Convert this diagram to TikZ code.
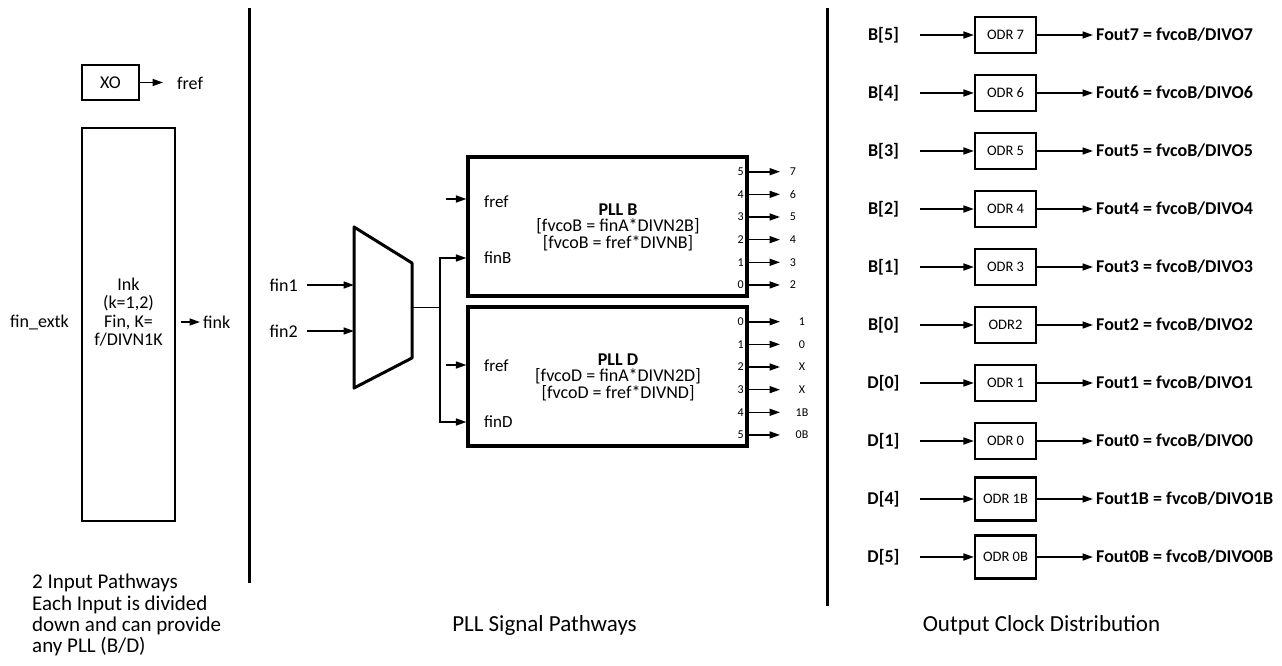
\documentclass[tikz,border=0pt]{standalone}
\usepackage{fontspec}
\setmainfont{Carlito}
\usetikzlibrary{arrows.meta}
\newcommand{\fs}[2]{\fontsize{#1}{#2}\selectfont}
\begin{document}
\begin{tikzpicture}[x=1pt,y=-1pt,
  arr/.style={line width=1.6pt,-{Triangle[length=10.5pt,width=7pt]}},
  sepline/.style={line width=3pt},
  box/.style={draw,line width=2.2pt,inner sep=0pt},
  pllbox/.style={draw,line width=3.2pt,inner sep=0pt,minimum width=279pt,minimum height=139pt},
  lbl/.style={inner sep=0pt,font=\fs{18}{20}},
  plllbl/.style={inner sep=0pt,font=\fs{17}{19}},
  pin/.style={inner sep=0pt,font=\fs{12}{14}},
  odrbox/.style={draw,line width=2.2pt,minimum width=61pt,inner sep=0pt,font=\fs{14.5}{16}},
  outlbl/.style={inner sep=0pt,font=\bfseries\fs{18}{20}},
  title/.style={inner sep=0pt,font=\fs{23}{26}}
]
\useasboundingbox (0,0) rectangle (1282,666);

% separators
\coordinate (s1t) at (249,8); \coordinate (s1b) at (249,583);
\coordinate (s2t) at (827,8); \coordinate (s2b) at (827,606);
\draw[sepline] (s1t) -- (s1b);
\draw[sepline] (s2t) -- (s2b);

% ---------- left panel ----------
\node[box,minimum width=57pt,minimum height=35pt,font=\fs{18}{20}] (xo) at (110.5,82.5) {XO};
\node[lbl,anchor=west] (fref0) at (177,83) {fref};
\draw[arr,shorten >=14pt] (xo.east) -- (xo.east -| fref0.west);

\node[box,minimum width=93pt,minimum height=393pt] (ink) at (128.5,324.5) {};
\node[inner sep=0pt,align=center,font=\fs{18}{18.3}] (inktxt) at (128.5,312) {Ink\\(k=1,2)\\Fin, K=\\f/DIVN1K};
\node[lbl] (finext) at (39.5,322) {fin\_extk};
\node[lbl,anchor=west] (fink) at (203,322) {fink};
\draw[arr,shorten <=5pt,shorten >=3pt] (ink.east |- fink.west) -- (fink.west);

\node[inner sep=0pt,align=left,anchor=north west,font=\fs{21}{21.4}] (t1) at (32,574)
  {2 Input Pathways\\Each Input is divided\\down and can provide\\any PLL (B/D)};

% ---------- middle panel ----------
\coordinate (mtl) at (354,227); \coordinate (mtr) at (412,263);
\coordinate (mbr) at (412,358); \coordinate (mbl) at (354,388);
\draw[line width=3pt,line join=round] (mtl) -- (mtr) -- (mbr) -- (mbl) -- cycle;
\node[lbl,anchor=east] (fin1) at (298,285) {fin1};
\node[lbl,anchor=east] (fin2) at (298,331) {fin2};
\draw[arr,shorten <=9pt] (fin1.east) -- (fin1.east -| mtl);
\draw[arr,shorten <=9pt] (fin2.east) -- (fin2.east -| mtl);

\node[pllbox] (pllB) at (607.5,226.5) {};
\node[pllbox] (pllD) at (607.5,376.5) {};

\node[plllbl,anchor=west] (frefB) at (484,202) {fref};
\node[plllbl,anchor=west] (finB) at (484,258) {finB};
\node[plllbl,anchor=west] (frefD) at (484,366) {fref};
\node[plllbl,anchor=west] (finD) at (484,422) {finD};

\node[inner sep=0pt,align=center,font=\fs{18}{16.5}] (txtB) at (618,227)
  {\textbf{PLL B}\\{[}fvcoB = finA*DIVN2B{]}\\{[}fvcoB = fref*DIVNB{]}};
\node[inner sep=0pt,align=center,font=\fs{18}{16.5}] (txtD) at (618,377)
  {\textbf{PLL D}\\{[}fvcoD = finA*DIVN2D{]}\\{[}fvcoD = fref*DIVND{]}};

\coordinate (mo) at (412,307.5);
\coordinate (jn) at (440,307.5);
\draw[line width=1.6pt] (mo) -- (jn);
\draw[arr] (jn) |- (pllB.west |- finB);
\draw[arr] (jn) |- (pllD.west |- finD);
\coordinate (frB) at (446,199);
\coordinate (frD) at (446,365);
\draw[arr] (frB) -- (pllB.west |- frB);
\draw[arr] (frD) -- (pllD.west |- frD);

\foreach \p/\o [count=\i from 0] in {5/7,4/6,3/5,2/4,1/3,0/2}{
  \pgfmathsetmacro\yy{171.7+22.65*\i}
  \node[pin,anchor=east] (pB\i) at (744,\yy) {\p};
  \node[pin] (oB\i) at (793,\yy) {\o};
  \coordinate (eB\i) at (780,\yy);
  \draw[arr] (pllB.east |- eB\i) -- (eB\i);
}
\foreach \p/\o [count=\i from 0] in {0/1,1/0,2/X,3/X,4/1B,5/0B}{
  \pgfmathsetmacro\yy{321.7+22.65*\i}
  \node[pin,anchor=east] (pD\i) at (744,\yy) {\p};
  \node[pin] (oD\i) at (802,\yy) {\o};
  \coordinate (eD\i) at (780,\yy);
  \draw[arr] (pllD.east |- eD\i) -- (eD\i);
}

% ---------- right panel ----------
\foreach \lab/\odr/\s/\h [count=\i from 0] in
  {{B[5]}/{ODR 7}/7/36,{B[4]}/{ODR 6}/6/36,{B[3]}/{ODR 5}/5/36,{B[2]}/{ODR 4}/4/36,
   {B[1]}/{ODR 3}/3/36,{B[0]}/{ODR2}/2/36,{D[0]}/{ODR 1}/1/36,{D[1]}/{ODR 0}/0/36,
   {D[4]}/{ODR 1B}/1B/43,{D[5]}/{ODR 0B}/0B/43}{
  \pgfmathsetmacro\yy{35+58*\i}
  \node[outlbl] (lab\i) at (883.5,\yy) {\lab};
  \node[odrbox,minimum height=\h pt] (odr\i) at (1005.5,\yy) {\odr};
  \coordinate (st\i) at (920,\yy);
  \draw[arr] (st\i) -- (odr\i.west);
  \node[outlbl,anchor=west] (fo\i) at (1096,\yy) {Fout\s{} = fvcoB/DIVO\s};
  \draw[arr,shorten >=3pt] (odr\i.east) -- (odr\i.east -| fo\i.west);
}

\node[title] (t2) at (544.5,625) {PLL Signal Pathways};
\node[title] (t3) at (1041.5,625) {Output Clock Distribution};
\end{tikzpicture}
\end{document}
